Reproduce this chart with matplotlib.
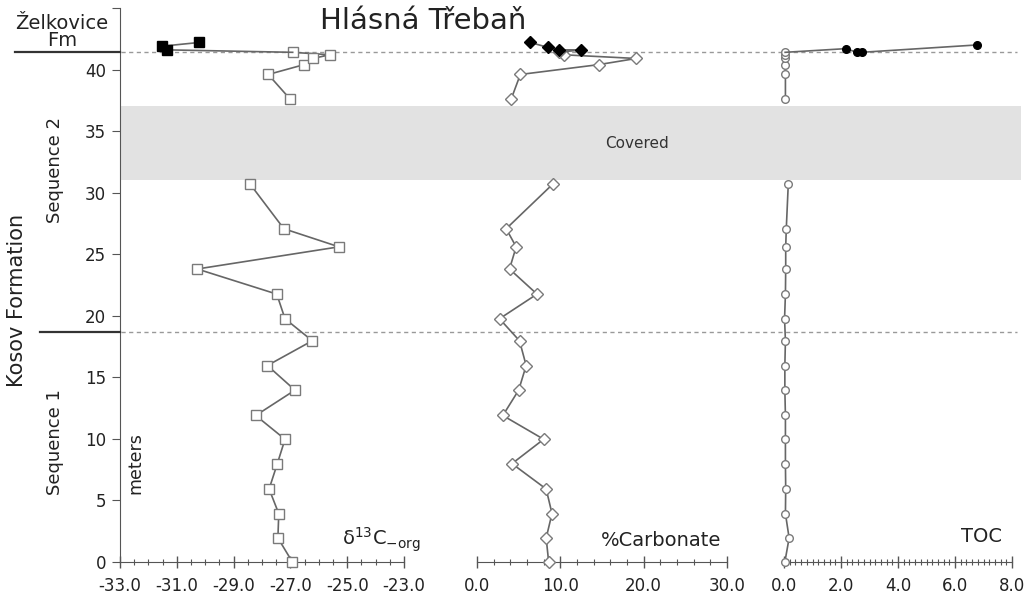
import matplotlib
matplotlib.use("Agg")
import matplotlib.pyplot as plt
import matplotlib.transforms as mtransforms
from matplotlib.lines import Line2D
from matplotlib.patches import Rectangle
from matplotlib.ticker import FixedLocator
import numpy as np

plt.rcParams['font.family'] = ['DejaVu Sans']
plt.rcParams['axes.unicode_minus'] = False

# Kosov Formation samples below the covered interval (m)
depth_low = [0.0, 1.95, 3.93, 5.93, 7.99, 9.97, 11.9, 13.96, 15.96, 17.97,
             19.76, 21.76, 23.8, 25.6, 27.07, 30.7]
d13c_low = [-26.93, -27.44, -27.41, -27.75, -27.46, -27.19, -28.22, -26.84,
            -27.81, -26.23, -27.19, -27.48, -30.28, -25.29, -27.23, -28.42]
carb_low = [8.6, 8.3, 9.0, 8.3, 4.2, 8.0, 3.1, 5.0, 5.9, 5.1,
            2.7, 7.2, 3.9, 4.7, 3.5, 9.1]
toc_low = [0.03, 0.18, 0.05, 0.06, 0.05, 0.05, 0.05, 0.03, 0.03, 0.05,
           0.02, 0.05, 0.06, 0.06, 0.08, 0.15]

# samples above the covered interval
depth_up = [37.6, 39.6, 40.4, 40.9, 41.2, 41.4]
d13c_up = [-27.01, -27.78, -26.52, -26.22, -25.61, -26.92]
carb_up = [4.1, 5.2, 14.6, 19.1, 10.4, 9.8]
toc_up = [0.05, 0.05, 0.04, 0.04, 0.04, 0.04]

# Zelkovice Fm (filled symbols), in line order
zd13c_depth = [42.2, 41.9, 41.6]
zd13c = [-30.21, -31.51, -31.36]
zcarb_depth = [42.2, 41.8, 41.6, 41.6]
zcarb = [6.4, 8.5, 9.8, 12.5]
ztoc_depth = [42.0, 41.4, 41.4, 41.7]
ztoc = [6.78, 2.72, 2.55, 2.18]

seq_boundary = 18.7
fm_boundary = 41.4
covered = (31.0, 37.0)

W, H = 1034, 597
fig = plt.figure(figsize=(W / 100, H / 100), dpi=100)

def px_axes(x0, x1):
    return fig.add_axes([x0 / W, (H - 562) / H, (x1 - x0) / W, (562 - 8) / H])

ax1 = px_axes(120, 404)
ax2 = px_axes(477, 727)
ax3 = px_axes(784, 1012)

line_c = '#666666'
edge_c = '#7a7a7a'
spine_c = '#555555'

panels = [
    (ax1, d13c_low, d13c_up, zd13c, zd13c_depth, 's', 6.5, (-33, -23), 2, 0.5),
    (ax2, carb_low, carb_up, zcarb, zcarb_depth, 'D', 6.0, (0, 30), 10, 2),
    (ax3, toc_low, toc_up, ztoc, ztoc_depth, 'o', 5.5, (0, 8), 2, 0.2),
]

for ax, low, up, zx, zy, mk, ms, xl, major, minor in panels:
    ax.patch.set_visible(False)
    for seg_x, seg_y in ((low, depth_low), (up, depth_up)):
        ax.plot(seg_x, seg_y, color=line_c, lw=1.2, marker=mk, ms=ms,
                mfc='white', mec=edge_c, mew=1.0, zorder=3, clip_on=False)
    # filled series joined to the top open sample
    ax.plot(list(zx) + [up[-1]], list(zy) + [depth_up[-1]], color=line_c,
            lw=1.2, zorder=3, clip_on=False)
    ax.plot(zx, zy, ls='none', marker=mk, ms=ms, mfc='black', mec='black',
            zorder=4, clip_on=False)
    ax.set_xlim(*xl)
    ax.set_ylim(0, 45)
    ax.xaxis.set_major_locator(FixedLocator(np.arange(xl[0], xl[1] + 1e-6, major)))
    ax.xaxis.set_minor_locator(FixedLocator(np.arange(xl[0], xl[1] + 1e-6, minor)))
    ax.xaxis.set_major_formatter('{x:.1f}')
    ax.tick_params(axis='x', which='major', direction='inout', length=9,
                   width=1.0, color=spine_c, labelsize=12, pad=6,
                   labelcolor='#222222')
    ax.tick_params(axis='x', which='minor', direction='inout', length=5,
                   width=0.8, color=spine_c)
    for s in ('top', 'right'):
        ax.spines[s].set_visible(False)
    ax.spines['bottom'].set_color(spine_c)

ax1.spines['left'].set_color(spine_c)
ax1.set_yticks(np.arange(0, 46, 5))
ax1.set_yticklabels([str(v) for v in range(0, 45, 5)] + [''])
ax1.tick_params(axis='y', direction='out', length=6, color=spine_c,
                labelsize=12, labelcolor='#222222', pad=4)
for ax in (ax2, ax3):
    ax.spines['left'].set_visible(False)
    ax.set_yticks([])

# covered band and boundaries across all panels
tr = mtransforms.blended_transform_factory(fig.transFigure, ax1.transData)
fig.add_artist(Rectangle((120 / W, covered[0]), 901 / W, covered[1] - covered[0],
                         transform=tr, facecolor='#e2e2e2', edgecolor='none',
                         zorder=-1))
for yb, x_black in ((seq_boundary, 40), (fm_boundary, 15)):
    fig.add_artist(Line2D([121 / W, 1017 / W], [yb, yb], transform=tr,
                          color='#999999', lw=1.0, ls=(0, (3, 2.5)), zorder=-0.5))
    fig.add_artist(Line2D([x_black / W, 120 / W], [yb, yb], transform=tr,
                          color='#333333', lw=1.6))

fig.text(637 / W, sum(covered) / 2, 'Covered', transform=tr, ha='center',
         va='center', fontsize=11, color='#333333')

fig.text(320 / W, 1 - 21 / H, 'Hlásná Třebaň', fontsize=21, va='center',
         ha='left', color='#222222')
fig.text(62 / W, 1 - 32 / H, 'Želkovice\nFm', fontsize=14, ha='center',
         va='center', linespacing=0.85, color='#222222')
fig.text(17 / W, 1 - 300 / H, 'Kosov Formation', rotation=90, fontsize=15,
         ha='center', va='center', color='#222222')
fig.text(55 / W, 1 - 170 / H, 'Sequence 2', rotation=90, fontsize=13,
         ha='center', va='center', color='#222222')
fig.text(55 / W, 1 - 442 / H, 'Sequence 1', rotation=90, fontsize=13,
         ha='center', va='center', color='#222222')
fig.text(135 / W, 1 - 463 / H, 'meters', rotation=90, fontsize=12.5,
         ha='center', va='center', color='#222222')

fig.text(421 / W, 1 - 540 / H, r'δ$^{\mathregular{13}}$C$_{\mathregular{-org}}$',
         fontsize=14, ha='right', va='center', color='#222222')
fig.text(721 / W, 1 - 540 / H, '%Carbonate', fontsize=14, ha='right',
         va='center', color='#222222')
fig.text(1002 / W, 1 - 537 / H, 'TOC', fontsize=14, ha='right',
         va='center', color='#222222')

fig.savefig('out.png', dpi=100)
